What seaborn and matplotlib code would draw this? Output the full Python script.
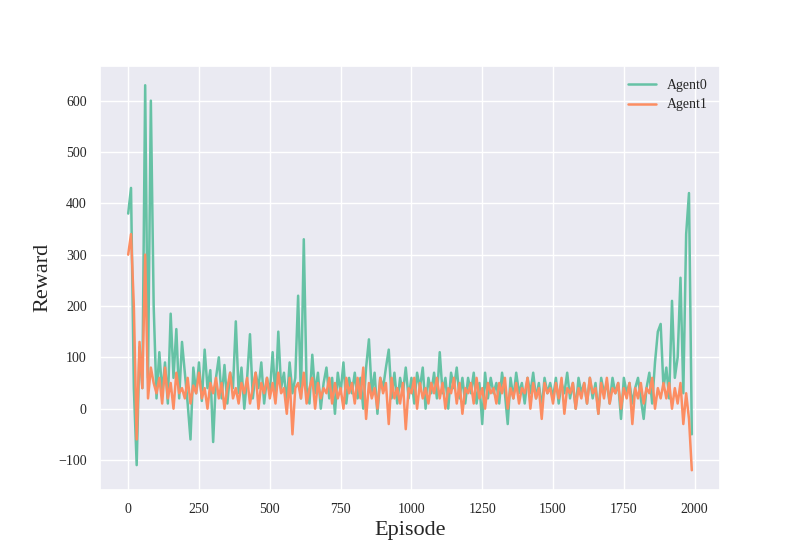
import numpy as np
import pandas as pd
import seaborn as sns
from matplotlib import pyplot as plt

episodes = list(range(0, 2000, 10))

agent0 = [380, 430, 40, -110, 120, 40, 630, 60, 600, 200,
          20, 110, 30, 90, 10, 185, 60, 155, 20, 130,
          70, 10, -60, 80, 30, 90, 15, 115, 40, 75,
          -65, 60, 100, 20, 85, 10, 70, 40, 170, 30,
          80, 0, 60, 145, 20, 70, 40, 90, 10, 60,
          30, 110, 20, 150, 40, 70, 10, 90, 30, 60,
          220, 20, 330, 40, 10, 105, 30, 70, 0, 50,
          80, 20, 60, -10, 70, 30, 90, 10, 60, 30,
          70, 20, 60, 0, 80, 135, 30, 70, -10, 60,
          40, 80, 115, 20, 70, 10, 60, 30, 80, 20,
          60, 10, 70, 40, 80, 0, 60, 30, 70, 20,
          110, 30, 60, 0, 70, 40, 80, 20, 60, 10,
          60, 30, 70, 10, 50, -30, 70, 20, 60, 30,
          50, 10, 70, 30, -30, 60, 20, 70, 30, 50,
          10, 60, 30, 70, 20, 50, 0, 60, 30, 50,
          20, 60, 10, 50, 30, 70, 20, 50, 0, 60,
          30, 50, 10, 60, 20, 50, -10, 60, 30, 50,
          10, 60, 30, 50, -20, 60, 30, 50, 10, 40,
          60, 20, -20, 40, 70, 10, 90, 150, 165, 40,
          80, 20, 210, 60, 100, 255, 30, 340, 420, -50]

agent1 = [300, 340, 200, -60, 130, 40, 300, 20, 80, 50,
          30, 60, 10, 80, 20, 50, 0, 70, 30, 40,
          20, 60, 10, 45, 30, 70, 20, 40, 0, 50,
          30, 60, 20, 50, 0, 40, 70, 20, 40, 10,
          50, 30, 60, 10, 40, 70, 0, 50, 30, 60,
          20, 50, 10, 70, 30, 40, -10, 60, -50, 40,
          50, 20, 70, 10, 40, 60, 0, 50, 20, 40,
          30, 60, 10, 50, 20, 40, 0, 60, 30, 50,
          10, 60, 20, 80, -20, 50, 20, 40, 0, 60,
          30, 50, -30, 60, 20, 40, 10, 50, -40, 40,
          30, 60, 0, 50, 20, 40, 10, 50, 30, 60,
          20, 50, 0, 40, 30, 60, 10, 50, -10, 40,
          30, 50, 10, 60, 20, 40, 0, 50, 30, 40,
          10, 50, 30, 60, 0, 40, 20, 50, 10, 40,
          30, 60, 0, 50, 20, 40, -20, 50, 30, 40,
          10, 50, 20, 60, -10, 40, 30, 50, 0, 40,
          20, 50, 10, 60, 30, 40, -10, 50, 20, 60,
          10, 40, 30, 50, 0, 40, 20, 50, -30, 40,
          20, 50, 10, 40, 30, 60, 0, 40, 20, 50,
          20, 50, 0, 40, 10, 50, -30, 30, -20, -120]

df = pd.DataFrame({"Episode": episodes * 2,
                   "Reward": agent0 + agent1,
                   "Agent": ["Agent0"] * len(agent0) + ["Agent1"] * len(agent1)})

sns.set_theme(style="darkgrid")
plt.rcParams['font.family'] = ['Liberation Serif', 'DejaVu Serif']

fig, ax = plt.subplots(figsize=(8, 5.5), dpi=100)
sns.lineplot(data=df, x="Episode", y="Reward", hue="Agent",
             palette=sns.color_palette("Set2", 2), linewidth=1.8, ax=ax)
ax.set_xlabel("Episode", fontsize=16)
ax.set_ylabel("Reward", fontsize=16)
ax.tick_params(labelsize=10)
ax.set_xticks(range(0, 2001, 250))
ax.legend(title=None, loc="upper right", frameon=False, fontsize=10)
plt.savefig("out.png")
